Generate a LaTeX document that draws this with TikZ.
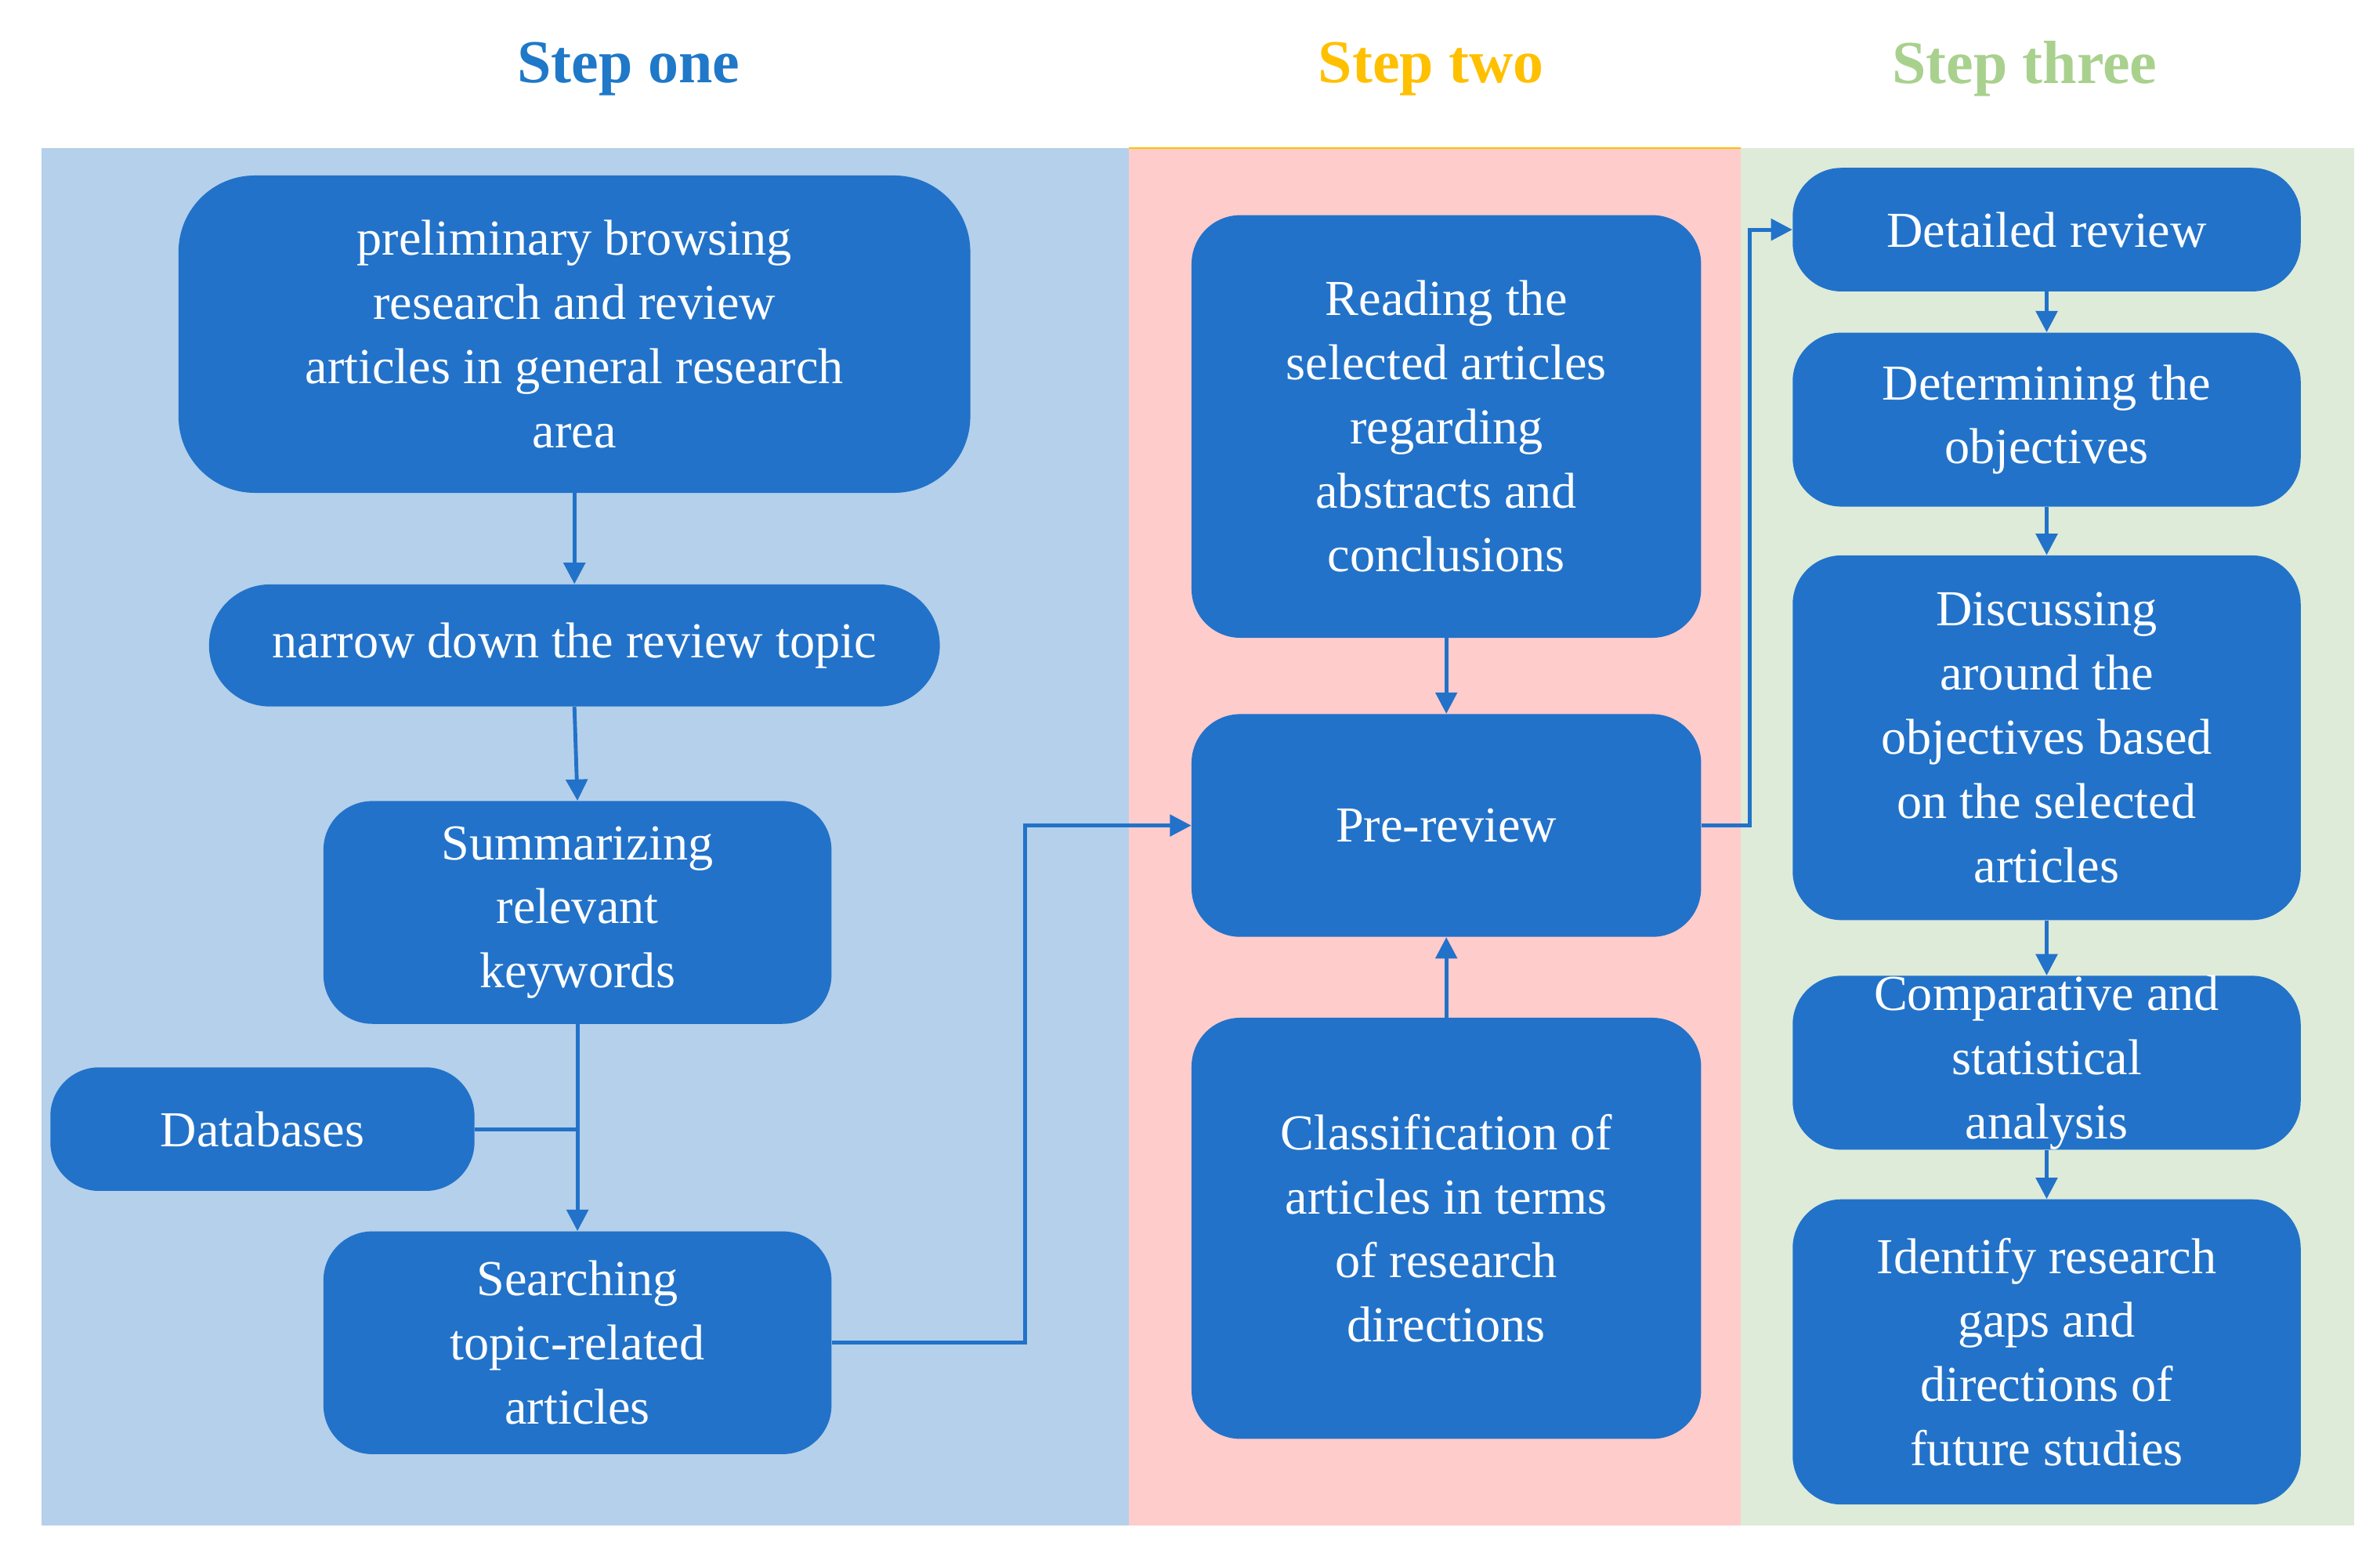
\documentclass[tikz,border=0pt]{standalone}
\usepackage{fontspec}
\setmainfont{Liberation Serif}
\usetikzlibrary{arrows.meta}
\definecolor{nodeblue}{HTML}{2272C9}
\definecolor{bgblue}{HTML}{B5D0EA}
\definecolor{bgpink}{HTML}{FFCCCC}
\definecolor{bggreen}{HTML}{DDEBD8}
\definecolor{tblue}{HTML}{1F78C8}
\definecolor{torange}{HTML}{FFC000}
\definecolor{tgreen}{HTML}{A9D18E}
\begin{document}
\begin{tikzpicture}[x=1pt,y=-1pt,
  box/.style={draw=none,fill=nodeblue,rounded corners=32pt,text=white,align=center,
    font=\fontsize{33}{42}\selectfont,inner sep=0pt},
  conn/.style={draw=nodeblue,line width=2.5pt},
  arr/.style={conn,-{Triangle[length=14pt,width=14pt]}},
  ttl/.style={font=\fontsize{40}{44}\selectfont\bfseries}]
\useasboundingbox (0,0) rectangle (1560,1015);
\fill[bgblue] (27,97) rectangle (740,1000);
\fill[bgpink] (740,97) rectangle (1141,1000);
\fill[bggreen] (1141,97) rectangle (1543,1000);
\draw[torange,line width=1pt] (740,97) -- (1141,97);
\node[ttl,text=tblue] (t1) at (412,45) {Step one};
\node[ttl,text=torange] (t2) at (938,45) {Step two};
\node[ttl,text=tgreen] (t3) at (1327,45) {Step three};
\node[box,rounded corners=50pt,minimum width=519pt,minimum height=208pt] (prelim) at (376.5,219) {preliminary browsing\\research and review\\articles in general research\\area};
\node[box,rounded corners=40pt,minimum width=479pt,minimum height=80pt] (narrow) at (376.5,423) {narrow down the review topic};
\node[box,minimum width=333pt,minimum height=146pt] (summ) at (378.5,598) {Summarizing\\relevant\\keywords};
\node[box,minimum width=278pt,minimum height=81pt] (db) at (172,740) {Databases};
\node[box,minimum width=333pt,minimum height=146pt] (search) at (378.5,880) {Searching\\topic-related\\articles};
\node[box,minimum width=334pt,minimum height=277pt] (read) at (948,279.5) {Reading the\\selected articles\\regarding\\abstracts and\\conclusions};
\node[box,minimum width=334pt,minimum height=146pt] (pre) at (948,541) {Pre-review};
\node[box,minimum width=334pt,minimum height=276pt] (cls) at (948,805) {Classification of\\articles in terms\\of research\\directions};
\node[box,minimum width=333pt,minimum height=81pt] (det) at (1341.5,150.5) {Detailed review};
\node[box,minimum width=333pt,minimum height=114pt] (obj) at (1341.5,275) {Determining the\\objectives};
\node[box,minimum width=333pt,minimum height=239pt] (disc) at (1341.5,483.5) {Discussing\\around the\\objectives based\\on the selected\\articles};
\node[box,minimum width=333pt,minimum height=113pt] (comp) at (1341.5,696.5) {Comparative and\\statistical\\analysis};
\node[box,minimum width=333pt,minimum height=200pt] (ident) at (1341.5,886) {Identify research\\gaps and\\directions of\\future studies};
\draw[arr] (prelim.south) -- (narrow.north);
\draw[arr] (narrow.south) -- (summ.north);
\draw[arr] (summ.south) -- (search.north);
\coordinate (j) at (search.north |- db.east);
\draw[conn] (db.east) -- (j);
\draw[arr] (search.east) -- (672,880) |- (pre.west);
\draw[arr] (read.south) -- (pre.north);
\draw[arr] (cls.north) -- (pre.south);
\draw[arr] (pre.east) -- (1147,541) |- (det.west);
\draw[arr] (det.south) -- (obj.north);
\draw[arr] (obj.south) -- (disc.north);
\draw[arr] (disc.south) -- (comp.north);
\draw[arr] (comp.south) -- (ident.north);
\end{tikzpicture}
\end{document}
